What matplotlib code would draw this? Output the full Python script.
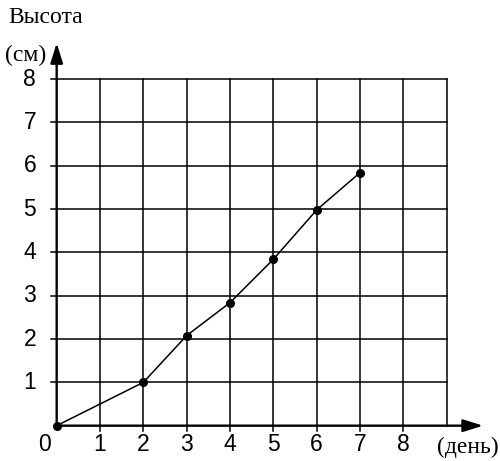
import matplotlib
matplotlib.use("Agg")
import matplotlib.pyplot as plt

# данные
days = [0, 2, 3, 4, 5, 6, 7]
height = [0, 1, 2.08, 2.84, 3.84, 4.98, 5.84]
x_ticks = [1, 2, 3, 4, 5, 6, 7, 8]
y_ticks = [1, 2, 3, 4, 5, 6, 7, 8]
x_grid_max = 9
y_grid_max = 8

fig = plt.figure(figsize=(5.0, 4.61), dpi=100)
ax = fig.add_axes([0, 0, 1, 1])
ax.set_xlim(-1.308, 10.23)
ax.set_ylim(-0.815, 9.824)
ax.axis('off')

# сетка
for xv in range(1, x_grid_max + 1):
    ax.plot([xv, xv], [0, y_grid_max], color='black', lw=1.1, zorder=1)
for yv in range(1, y_grid_max + 1):
    ax.plot([0, x_grid_max], [yv, yv], color='black', lw=1.1, zorder=1)

# оси со стрелками
arrow = dict(arrowstyle='-|>,head_length=0.8,head_width=0.25', lw=1.7,
             color='black', mutation_scale=15, shrinkA=0, shrinkB=0)
ax.annotate('', xy=(9.84, 0), xytext=(0, 0), arrowprops=arrow, zorder=3)
ax.annotate('', xy=(0, 8.83), xytext=(0, 0), arrowprops=arrow, zorder=3)

# засечки
for t in x_ticks:
    ax.plot([t, t], [0, -0.12], color='black', lw=1.1)
for t in y_ticks:
    ax.plot([-0.12, 0], [t, t], color='black', lw=1.1)

# подписи
num_font = dict(family='Liberation Sans', fontsize=16.5)
for t in x_ticks:
    ax.text(t, -0.445, str(t), ha='center', va='center', **num_font)
for t in y_ticks:
    ax.text(-0.62, t, str(t), ha='center', va='center', **num_font)
ax.text(-0.29, -0.445, '0', ha='center', va='center', **num_font)

serif = dict(family='Liberation Serif', fontsize=17)
ax.text(-1.124, 9.41, 'Высота', ha='left', va='center', **serif)
ax.text(-1.19, 8.55, '(см)', ha='left', va='center', **serif)
ax.text(8.78, -0.51, '(день)', ha='left', va='center', **serif)

# график
ax.plot(days, height, color='black', lw=1.1, marker='o', markersize=5.5, zorder=4,
        clip_on=False)

fig.savefig('out.png', dpi=100)
